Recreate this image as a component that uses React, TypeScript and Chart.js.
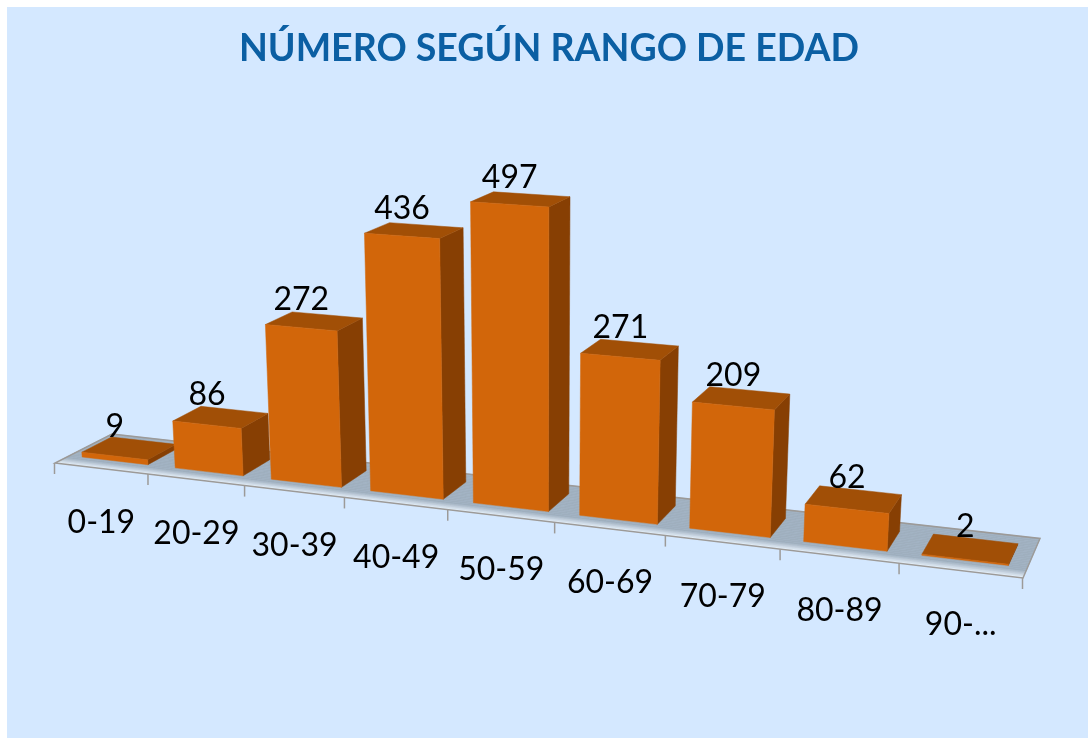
import React, { useEffect, useRef } from "react";
import { Chart, registerables } from "chart.js";

Chart.register(...registerables);

const categories = ["0-19", "20-29", "30-39", "40-49", "50-59", "60-69", "70-79", "80-89", "90-..."];
const counts = [9, 86, 272, 436, 497, 271, 209, 62, 2];

const FONT = "Lato, Carlito, sans-serif";
const FRONT = "#D2660A";
const SIDE = "#873F03";
const TOP = "#A14F06";

// Floor corners on the page: front-left, front-right, back-right, back-left
const C = [[55, 463], [1023, 578], [1040, 538.5], [112, 434]];
const sx = C[0][0] - C[1][0] + C[2][0] - C[3][0];
const sy = C[0][1] - C[1][1] + C[2][1] - C[3][1];
const dx1 = C[1][0] - C[2][0], dx2 = C[3][0] - C[2][0];
const dy1 = C[1][1] - C[2][1], dy2 = C[3][1] - C[2][1];
const det = dx1 * dy2 - dx2 * dy1;
const g = (sx * dy2 - dx2 * sy) / det;
const h = (dx1 * sy - sx * dy1) / det;
const a = C[1][0] - C[0][0] + g * C[1][0], b = C[3][0] - C[0][0] + h * C[3][0];
const d = C[1][1] - C[0][1] + g * C[1][1], e = C[3][1] - C[0][1] + h * C[3][1];

const BAR_W0 = 0.25, BAR_W1 = 0.775, BAR_SHIFT = -0.001;

function project(u: number, w: number, value = 0): [number, number] {
  const den = g * u + h * w + 1;
  let x = (a * u + b * w + C[0][0]) / den;
  let y = (d * u + e * w + C[0][1]) / den;
  const hpx = (value * (0.535 + 0.000075 * value)) / den;
  x += ((x - 540) * hpx) / 7000;
  y -= hpx;
  return [x, y];
}

function quad(ctx: CanvasRenderingContext2D, pts: [number, number][], color: string) {
  ctx.beginPath();
  pts.forEach((p, i) => (i ? ctx.lineTo(p[0], p[1]) : ctx.moveTo(p[0], p[1])));
  ctx.closePath();
  ctx.fillStyle = color;
  ctx.fill();
  ctx.strokeStyle = color;
  ctx.lineWidth = 0.5;
  ctx.stroke();
}

function mix(c1: number[], c2: number[], t: number) {
  return `rgb(${c1.map((v, i) => Math.round(v + (c2[i] - v) * t)).join(",")})`;
}

const perspective = {
  id: "perspective",
  beforeDatasetDraw() {
    return false;
  },
  afterDatasetsDraw(chart: any) {
    const ctx: CanvasRenderingContext2D = chart.ctx;
    const xs = chart.scales.x, ys = chart.scales.y;
    const toU = (px: number) => (px - xs.left) / xs.width;
    ctx.save();
    ctx.translate(-7, -7);

    // floor
    const STEPS = 24;
    for (let i = 0; i < STEPS; i++) {
      const w0 = i / STEPS, w1 = (i + 1) / STEPS;
      const t = w0 < 0.16 ? 1 - w0 / 0.16 : 0;
      const col = mix([159, 175, 190], [228, 238, 248], t);
      quad(ctx, [project(0, w0), project(1, w0), project(1, w1), project(0, w1)], col);
    }
    ctx.strokeStyle = "#9C9A98";
    ctx.lineWidth = 1.5;
    ctx.beginPath();
    ctx.moveTo(...project(0, 0));
    ctx.lineTo(...project(1, 0));
    ctx.lineTo(...project(1, 1));
    ctx.lineTo(...project(0, 1));
    ctx.closePath();
    ctx.stroke();
    for (let i = 0; i <= categories.length; i++) {
      const [x, y] = project(i / categories.length, 0);
      ctx.beginPath();
      ctx.moveTo(x - 0.5, y);
      ctx.lineTo(x - 0.5, y + 11);
      ctx.stroke();
    }

    // bars
    const meta = chart.getDatasetMeta(0);
    const labels: [string, number, number][] = [];
    meta.data.forEach((el: any, i: number) => {
      const v = ys.getValueForPixel(el.y);
      const u0 = toU(el.x - el.width / 2) + BAR_SHIFT, u1 = toU(el.x + el.width / 2) + BAR_SHIFT;
      const fb0 = project(u0, BAR_W0), fb1 = project(u1, BAR_W0);
      const bb1 = project(u1, BAR_W1);
      const ft0 = project(u0, BAR_W0, v), ft1 = project(u1, BAR_W0, v);
      const bt0 = project(u0, BAR_W1, v), bt1 = project(u1, BAR_W1, v);
      quad(ctx, [fb1, bb1, bt1, ft1], SIDE);
      quad(ctx, [ft0, ft1, bt1, bt0], TOP);
      quad(ctx, [fb0, fb1, ft1, ft0], FRONT);
      const c = project((u0 + u1) / 2, (BAR_W0 + BAR_W1) / 2, v);
      labels.push([String(chart.data.datasets[0].data[i]), (ft0[0] + ft1[0]) / 2, c[1] - 22]);
    });

    // text
    ctx.fillStyle = "#000000";
    ctx.font = `32px ${FONT}`;
    ctx.textAlign = "center";
    ctx.textBaseline = "middle";
    labels.forEach(([t, x, y]) => ctx.fillText(t, x, y));
    xs.getTicks().forEach((_: any, i: number) => {
      const [x, y] = project(toU(xs.getPixelForTick(i)), 0);
      ctx.fillText(xs.getLabelForValue(i), x, y + 54);
    });
    ctx.restore();
  },
};

export default function App() {
  const ref = useRef<HTMLCanvasElement>(null);
  useEffect(() => {
    document.body.style.margin = "0";
    document.body.style.background = "#FFFFFF";
    const chart = new Chart(ref.current!, {
      type: "bar",
      data: {
        labels: categories,
        datasets: [{ label: "Número", data: counts, backgroundColor: FRONT, barPercentage: 0.71, categoryPercentage: 1 }],
      },
      options: {
        responsive: false,
        animation: false,
        events: [],
        layout: { padding: { left: 3, right: 0, top: 0, bottom: 0 } },
        scales: {
          x: { display: false },
          y: { display: false, min: 0, max: 500 },
        },
        plugins: {
          legend: { display: false },
          tooltip: { enabled: false },
          title: {
            display: true,
            text: "NÚMERO SEGÚN RANGO DE EDAD",
            color: "#0B5FA3",
            font: { family: FONT, size: 37.5, weight: "bold" },
            padding: { top: 19, bottom: 10 },
          },
        },
      },
      plugins: [perspective],
    } as any);
    return () => chart.destroy();
  }, []);
  return (
    <div style={{ position: "absolute", left: 7, top: 7 }}>
      <canvas ref={ref} width={1081} height={731} style={{ display: "block", background: "#D4E8FF" }} />
    </div>
  );
}
